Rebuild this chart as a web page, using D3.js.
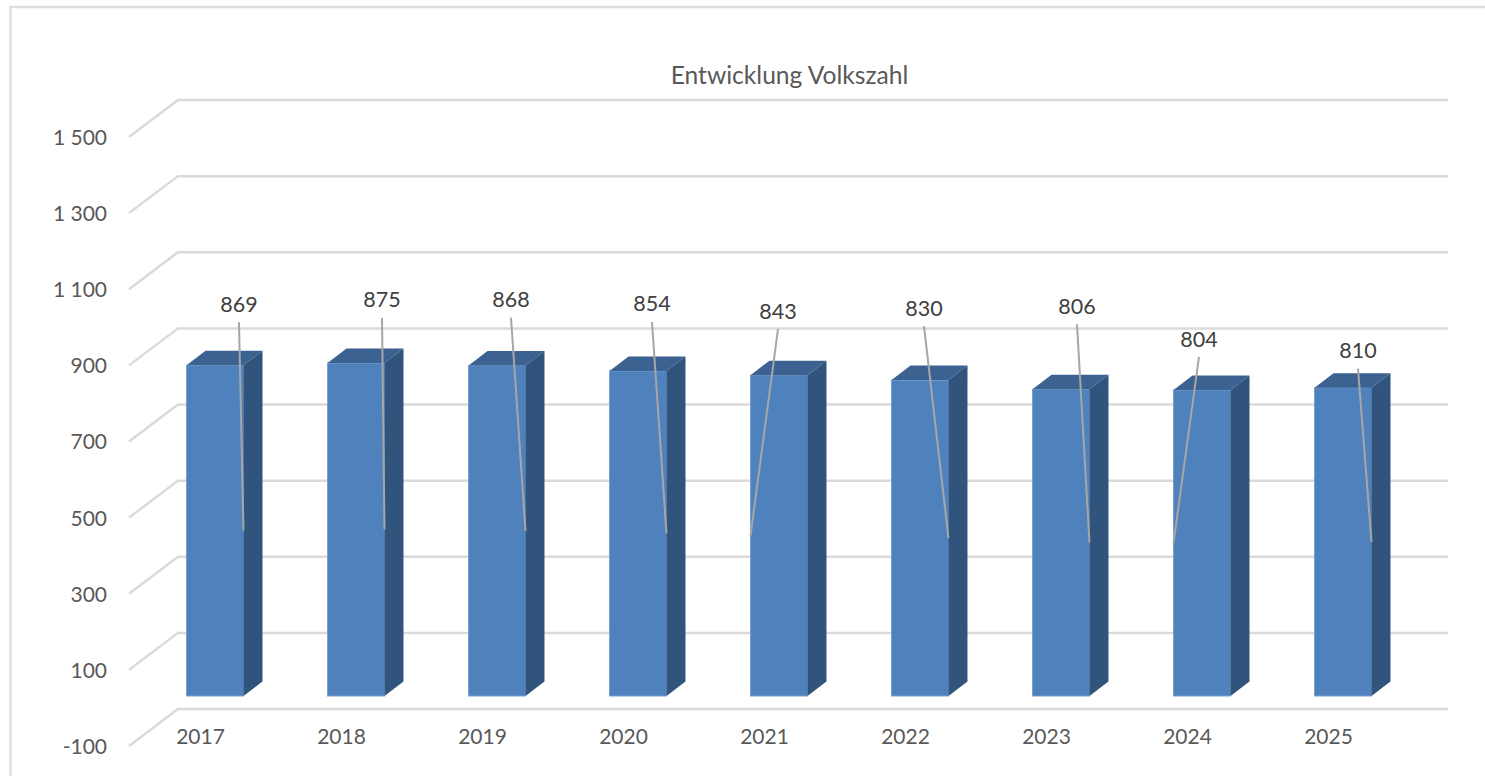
<!DOCTYPE html>
<html>
<head>
<meta charset="utf-8">
<script src="https://cdn.jsdelivr.net/npm/d3@7"></script>
<style>
  html, body { margin: 0; padding: 0; background: #fff; overflow: hidden; }
  text { font-family: Lato, "Open Sans", sans-serif; }
</style>
</head>
<body>
<svg id="chart" width="1485" height="776"></svg>
<script>
const years = ["2017", "2018", "2019", "2020", "2021", "2022", "2023", "2024", "2025"];
const volkszahl = [869, 875, 868, 854, 843, 830, 806, 804, 810];
const tickValues = [-100, 100, 300, 500, 700, 900, 1100, 1300, 1500];
const title = "Entwicklung Volkszahl";

// hand placed data labels, offset from the top centre of each bar
const labelDx = [24, 26, 14, 14, -1, 4, 16, -3, 15];
const labelDy = [-61, -63, -66, -67, -64, -72, -83, -51, -37];
// which side of the bar the leader line lands on
const leaderSide = [1, 1, 1, 1, 0, 1, 1, 0, 1];

const svg = d3.select("#chart");

// 3d box offsets
const wallDx = 49, wallDy = -37;
const barDx = 19, barDy = -14.5;

const y = d3.scaleLinear().domain([-100, 1500]).range([746, 137]);
const x = d3.scaleBand().domain(years).range([144.5, 1413.5]).paddingInner(0.596).paddingOuter(0.298);

// bars stand a bit behind the front edge of the floor
const barBase = 696;
const barY = v => barBase - (y(0) - y(v));

svg.append("rect")
   .attr("x", 10.5).attr("y", 7)
   .attr("width", 1500).attr("height", 800)
   .attr("fill", "#fff").attr("stroke", "#dedede").attr("stroke-width", 2.5);

const grid = svg.append("g").attr("fill", "none").attr("stroke", "#dadada").attr("stroke-width", 2.5);
grid.selectAll("path")
    .data(tickValues)
    .enter()
    .append("path")
    .attr("d", d => `M129,${y(d)} L${129 + wallDx},${y(d) + wallDy} H1448`);

svg.append("g")
   .attr("fill", "#595959")
   .attr("font-size", 21)
   .attr("text-anchor", "end")
   .selectAll("text")
   .data(tickValues)
   .enter()
   .append("text")
   .attr("x", 107)
   .attr("y", d => y(d))
   .attr("dy", "0.38em")
   .text(d => d3.format(",")(d).replace(",", " ").replace("\u2212", "-"));

svg.append("g")
   .attr("fill", "#595959")
   .attr("font-size", 21)
   .attr("text-anchor", "middle")
   .selectAll("text")
   .data(years)
   .enter()
   .append("text")
   .attr("x", d => x(d) + x.bandwidth() / 2 - 14.5)
   .attr("y", 744)
   .text(d => d);

const bars = svg.selectAll("g.bar")
    .data(volkszahl)
    .enter()
    .append("g")
    .attr("class", "bar")
    .attr("transform", (d, i) => `translate(${x(years[i])},0)`);

const w = x.bandwidth();

bars.append("rect")
    .attr("x", 0).attr("y", d => barY(d))
    .attr("width", w).attr("height", d => barBase - barY(d))
    .attr("fill", "#4f81bd")
    .attr("stroke", "#79a0d0").attr("stroke-width", 1);

bars.append("path")
    .attr("fill", "#3c6291")
    .attr("d", d => `M0,${barY(d)} L${barDx},${barY(d) + barDy} H${w + barDx} L${w},${barY(d)} Z`);

bars.append("path")
    .attr("fill", "#31547c")
    .attr("d", d => `M${w},${barY(d)} L${w + barDx},${barY(d) + barDy} V${barBase + barDy} L${w},${barBase} Z`);

// leader lines go from under the label to half height on the bar edge
bars.append("line")
    .attr("x1", (d, i) => w / 2 + labelDx[i])
    .attr("y1", (d, i) => barY(d) + labelDy[i] + 18)
    .attr("x2", (d, i) => leaderSide[i] ? w : 0)
    .attr("y2", d => barY(d / 2))
    .attr("stroke", "#a6a6a6").attr("stroke-width", 2);

bars.append("text")
    .attr("x", (d, i) => w / 2 + labelDx[i])
    .attr("y", (d, i) => barY(d) + labelDy[i])
    .attr("dy", "0.35em")
    .attr("text-anchor", "middle")
    .attr("font-size", 21.5)
    .attr("fill", "#404040")
    .text(d => d);

svg.append("text")
   .attr("x", 789.5).attr("y", 84)
   .attr("text-anchor", "middle")
   .attr("font-size", 24.6)
   .attr("fill", "#595959")
   .text(title);
</script>
</body>
</html>
